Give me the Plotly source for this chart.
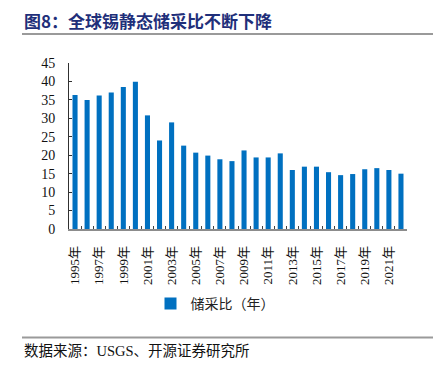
import plotly.graph_objects as go

years = [f"{y}年" for y in range(1995, 2023)]
ratio = [36.3, 35.0, 36.2, 37.0, 38.5, 39.9, 30.8, 24.0, 28.9, 22.6, 20.7, 19.9,
         18.9, 18.4, 21.3, 19.4, 19.4, 20.5, 16.0, 16.9, 16.9, 15.4, 14.6, 14.9,
         16.2, 16.5, 16.0, 15.0]
tick_text = [y if i % 2 == 0 else "" for i, y in enumerate(years)]
y_ticks = list(range(0, 46, 5))

title = "图8：全球锡静态储采比不断下降"
source = "数据来源：USGS、开源证券研究所"
series_name = "储采比（年）"

W, H = 445, 372
L, R, T, B = 69, 38, 63, 143
plot_w = W - L - R
plot_h = H - T - B


def ax(px):
    return (px - L) / plot_w


def ay(py):
    return (H - B - py) / plot_h


fig = go.Figure()
fig.add_trace(go.Bar(x=years, y=ratio, name=series_name, marker_color="#0070C0",
                     marker_line_width=0, width=0.42))

serif = "Liberation Serif, Noto Sans CJK SC, serif"
fig.update_layout(
    width=W, height=H,
    margin=dict(l=L, r=R, t=T, b=B, pad=0),
    paper_bgcolor="white", plot_bgcolor="white",
    showlegend=True,
    legend=dict(orientation="h", x=ax(215), xanchor="center", y=ay(304), yanchor="middle",
                font=dict(family="Noto Sans CJK SC, sans-serif", size=14, color="#222"),
                itemwidth=30, bgcolor="rgba(0,0,0,0)"),
    xaxis=dict(type="category", tickmode="array", tickvals=years, ticktext=tick_text,
               tickangle=-90, tickson="boundaries", ticks="inside", ticklen=3,
               tickcolor="#404040", showline=True, linecolor="#8c8c8c", linewidth=1.5,
               showgrid=False, tickfont=dict(family=serif, size=13, color="#111"),
               ticklabelstandoff=10),
    yaxis=dict(range=[0, 45], tickvals=y_ticks, ticks="inside", ticklen=3,
               tickcolor="#303030", showline=True, linecolor="#303030", linewidth=1,
               showgrid=False, zeroline=False,
               tickfont=dict(family=serif, size=14, color="#111"),
               ticklabelstandoff=10),
)

fig.add_annotation(text=f"<b>{title}</b>", xref="paper", yref="paper",
                   x=ax(22), y=ay(20), xanchor="left", yanchor="middle", showarrow=False,
                   font=dict(family="Noto Sans CJK SC, sans-serif", size=17, color="#1F2F7A"))
fig.add_annotation(text=source, xref="paper", yref="paper",
                   x=ax(22), y=ay(351), xanchor="left", yanchor="middle", showarrow=False,
                   font=dict(family=serif, size=14.5, color="#111"))

fig.add_shape(type="line", xref="paper", yref="paper", x0=ax(22), x1=ax(433), y0=ay(34), y1=ay(34),
              line=dict(color="#9a9a9a", width=2))
fig.add_shape(type="line", xref="paper", yref="paper", x0=ax(22), x1=ax(433), y0=ay(337.5), y1=ay(337.5),
              line=dict(color="#9a9a9a", width=2))

fig.write_html("out.html", config={"displayModeBar": False},
               post_script="document.body.style.margin='0';document.body.style.padding='0';")
